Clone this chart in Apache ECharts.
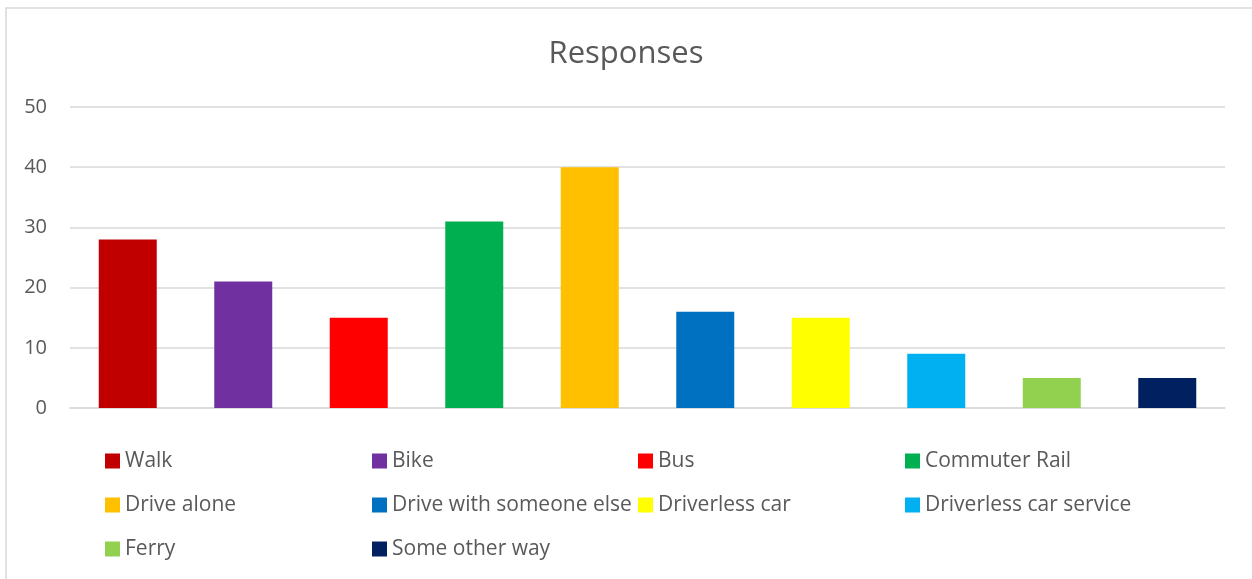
<!DOCTYPE html>
<html>
<head>
<meta charset="utf-8">
<script src="https://cdn.jsdelivr.net/npm/echarts@6/dist/echarts.min.js"></script>
<style>
html,body{margin:0;padding:0;background:#fff;}
#c{width:1252px;height:579px;}
</style>
</head>
<body>
<div id="c"></div>
<script>
const categories = ["Walk","Bike","Bus","Commuter Rail","Drive alone","Drive with someone else","Driverless car","Driverless car service","Ferry","Some other way"];
const values = [28,21,15,31,40,16,15,9,5,5];
const colors = ["#C00000","#7030A0","#FF0000","#00B050","#FFC000","#0070C0","#FFFF00","#00B0F0","#92D050","#002060"];
const yTicks = {min:0,max:50,interval:10};
const legendColumns = [
  ["Walk","Drive alone","Ferry"],
  ["Bike","Drive with someone else","Some other way"],
  ["Bus","Driverless car"],
  ["Commuter Rail","Driverless car service"]
];
const legendLefts = [105,372,638,905];

const font = "'Open Sans', sans-serif";
const series = categories.map((name,i)=>({
  name: name,
  type: 'bar',
  stack: 'all',
  barWidth: 58,
  itemStyle: {color: colors[i]},
  data: categories.map((c,j)=> j===i ? values[i] : '-')
}));

const legends = legendColumns.map((col,k)=>({
  orient: 'vertical',
  left: legendLefts[k],
  top: 450,
  padding: 0,
  data: col,
  icon: 'rect',
  itemWidth: 15,
  itemHeight: 15,
  itemGap: 22,
  selectedMode: false,
  textStyle: {fontFamily: font, fontSize: 21, color: '#595959', lineHeight: 22}
}));

const chart = echarts.init(document.getElementById('c'));
chart.setOption({
  animation: false,
  title: {
    text: 'Responses',
    left: 'center',
    top: 34,
    textStyle: {fontFamily: font, fontSize: 31, fontWeight: 'normal', color: '#595959'}
  },
  graphic: [{
    type: 'rect',
    shape: {x: 6, y: 8, width: 1400, height: 700},
    style: {fill: 'none', stroke: '#d9d9d9', lineWidth: 1.5},
    silent: true
  }],
  legend: legends,
  grid: {left: 70, right: 27, top: 107, bottom: 171, containLabel: false},
  xAxis: {
    type: 'category',
    data: categories,
    axisLine: {show: true, lineStyle: {color: '#d9d9d9', width: 1.5}},
    axisTick: {show: false},
    axisLabel: {show: false}
  },
  yAxis: {
    type: 'value',
    min: yTicks.min, max: yTicks.max, interval: yTicks.interval,
    axisLine: {show: false},
    axisTick: {show: false},
    axisLabel: {fontFamily: font, fontSize: 20, color: '#595959', margin: 23},
    splitLine: {lineStyle: {color: '#d9d9d9', width: 1.5}}
  },
  series: series
});
</script>
</body>
</html>
